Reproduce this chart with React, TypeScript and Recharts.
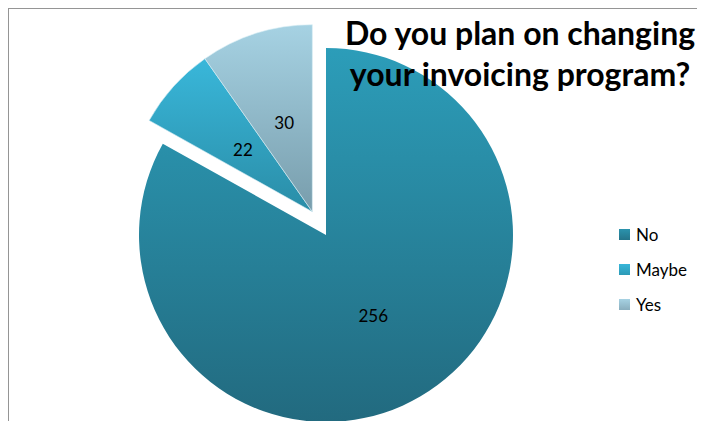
import React from 'react';
import { PieChart, Pie, Cell, Legend } from 'recharts';

const categories = ['No', 'Maybe', 'Yes'];
const responses = [256, 22, 30];
const explodedCategories = ['Maybe', 'Yes'];
const titleLines = ['Do you plan on changing', 'your invoicing program?'];

const gradientStops: Record<string, [string, string]> = {
  No: ['#2c9db9', '#226a7f'],
  Maybe: ['#39b7da', '#2a8da7'],
  Yes: ['#a6d2e3', '#789dac'],
};

const legendStops: Record<string, [string, string]> = {
  No: ['#2b93ad', '#24748a'],
  Maybe: ['#38b6d9', '#2c9ab6'],
  Yes: ['#a6d2e3', '#8aaebe'],
};

const data = categories.map((name, i) => ({ name, value: responses[i] }));

const W = 696;
const H = 412;
const CX = 317;
const CY = 226;
const R = 187;
const EXPLODE = 27;

const total = responses.reduce((a, b) => a + b, 0);
const explodedSum = categories.reduce(
  (s, c, i) => (explodedCategories.includes(c) ? s + responses[i] : s),
  0
);
const bisectorDeg = 90 + (explodedSum / total) * 180;
const RAD = Math.PI / 180;
const ECX = CX + EXPLODE * Math.cos(bisectorDeg * RAD);
const ECY = CY - EXPLODE * Math.sin(bisectorDeg * RAD);

const makeLabel = (exploded: boolean) => (props: any) => {
  const { cx, cy, midAngle, outerRadius, index } = props;
  const isExploded = explodedCategories.includes(categories[index]);
  if (isExploded !== exploded) return null;
  const r = outerRadius * 0.5;
  const x = cx + r * Math.cos(-midAngle * RAD);
  const y = cy + r * Math.sin(-midAngle * RAD);
  return (
    <text
      x={x}
      y={y}
      textAnchor="middle"
      dominantBaseline="central"
      fill="#000"
      fontFamily="Lato, 'Open Sans', sans-serif"
      fontSize={17}
    >
      {responses[index]}
    </text>
  );
};

const renderLegend = () => (
  <div style={{ fontFamily: "Lato, 'Open Sans', sans-serif", fontSize: 17, color: '#000' }}>
    {categories.map((c) => (
      <div key={c} style={{ display: 'flex', alignItems: 'center', height: 35 }}>
        <svg width={11} height={11} style={{ marginRight: 6 }}>
          <defs>
            <linearGradient id={`lg-${c}`} x1="0" y1="0" x2="0" y2="1">
              <stop offset="0%" stopColor={legendStops[c][0]} />
              <stop offset="100%" stopColor={legendStops[c][1]} />
            </linearGradient>
          </defs>
          <rect x={0} y={0} width={11} height={11} fill={`url(#lg-${c})`} />
        </svg>
        <span>{c}</span>
      </div>
    ))}
  </div>
);

export default function App() {
  return (
    <div
      style={{
        position: 'relative',
        width: W,
        height: H,
        borderTop: '1px solid #959595',
        borderLeft: '1px solid #959595',
        background: '#fff',
        overflow: 'hidden',
      }}
    >
      <PieChart width={W} height={H} margin={{ top: 0, right: 0, bottom: 0, left: 0 }}>
        <defs>
          {categories.map((c) => (
            <linearGradient key={c} id={`g-${c}`} x1="0" y1="0" x2="0" y2="1">
              <stop offset="0%" stopColor={gradientStops[c][0]} />
              <stop offset="100%" stopColor={gradientStops[c][1]} />
            </linearGradient>
          ))}
        </defs>
        <Pie
          data={data}
          dataKey="value"
          nameKey="name"
          cx={CX}
          cy={CY}
          outerRadius={R}
          startAngle={90}
          endAngle={-270}
          isAnimationActive={false}
          labelLine={false}
          label={makeLabel(false)}
          stroke="none"
        >
          {categories.map((c) => (
            <Cell
              key={c}
              fill={explodedCategories.includes(c) ? 'transparent' : `url(#g-${c})`}
            />
          ))}
        </Pie>
        <Pie
          data={data}
          dataKey="value"
          nameKey="name"
          cx={ECX}
          cy={ECY}
          outerRadius={R}
          startAngle={90}
          endAngle={-270}
          isAnimationActive={false}
          labelLine={false}
          label={makeLabel(true)}
        >
          {categories.map((c) => (
            <Cell
              key={c}
              fill={explodedCategories.includes(c) ? `url(#g-${c})` : 'transparent'}
              stroke={explodedCategories.includes(c) ? '#d8eef5' : 'none'}
              strokeWidth={0.6}
            />
          ))}
        </Pie>
        <Legend
          content={renderLegend}
          wrapperStyle={{ position: 'absolute', left: 610, top: 208, width: 90, bottom: 'auto', right: 'auto' }}
        />
      </PieChart>
      <svg
        width={W}
        height={H}
        style={{ position: 'absolute', left: 0, top: 0, pointerEvents: 'none' }}
      >
        {titleLines.map((line, i) => (
          <text
            key={i}
            x={511}
            y={36 + i * 41}
            textAnchor="middle"
            fontFamily="Lato, 'Open Sans', sans-serif"
            fontWeight={700}
            fontSize={32}
            fill="#000"
          >
            {line}
          </text>
        ))}
      </svg>
    </div>
  );
}
